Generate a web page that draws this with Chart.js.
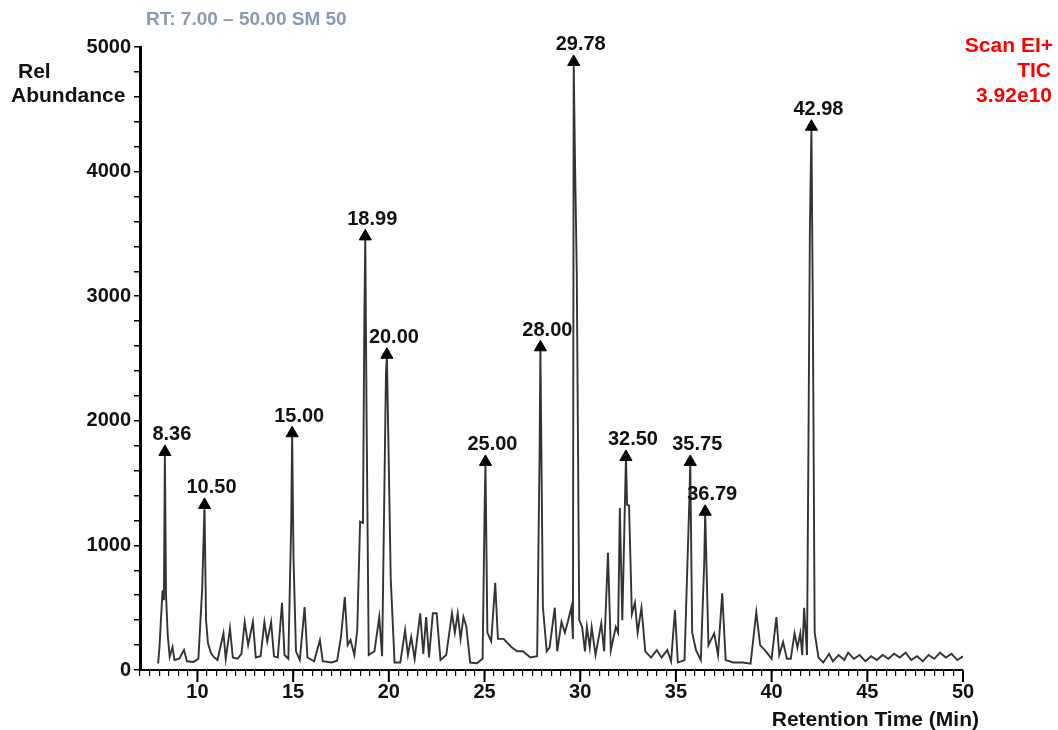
<!DOCTYPE html>
<html>
<head>
<meta charset="utf-8">
<script src="https://cdn.jsdelivr.net/npm/chart.js"></script>
<style>
  body { margin: 0; background: #fff; }
</style>
</head>
<body>
<canvas id="tic" width="1058" height="730"></canvas>
<script>
// retention time (min) and abundance of the TIC trace
const times = [
  7.90, 7.95, 8.02, 8.10, 8.18, 8.25, 8.30, 8.36, 8.45, 8.55, 8.70, 8.80, 9.05, 9.30, 9.45, 9.80,
  10.05, 10.25, 10.37, 10.45, 10.55, 10.70, 10.85, 11.05, 11.36, 11.48, 11.70, 11.85, 12.10, 12.30,
  12.47, 12.65, 12.90, 13.05, 13.30, 13.50, 13.65, 13.85, 14.00, 14.20, 14.42, 14.55, 14.75, 14.90,
  14.95, 15.02, 15.15, 15.35, 15.60, 15.75, 16.10, 16.40, 16.55, 17.00, 17.30, 17.50, 17.70, 17.85,
  18.00, 18.20, 18.35, 18.50, 18.65, 18.72, 18.77, 18.84, 18.95, 19.25, 19.50, 19.65, 19.85, 19.90,
  20.10, 20.30, 20.60, 20.85, 21.00, 21.17, 21.35, 21.64, 21.80, 21.95, 22.10, 22.30, 22.50, 22.70,
  23.00, 23.30, 23.45, 23.60, 23.75, 23.90, 24.05, 24.25, 24.60, 24.90, 25.00, 25.05, 25.15, 25.35,
  25.56, 25.70, 26.00, 26.40, 26.70, 27.00, 27.40, 27.75, 27.88, 27.92, 28.05, 28.25, 28.40, 28.67,
  28.80, 29.02, 29.20, 29.35, 29.54, 29.62, 29.66, 29.72, 29.82, 29.95, 30.10, 30.25, 30.35, 30.50,
  30.60, 30.80, 31.10, 31.25, 31.45, 31.60, 31.86, 31.98, 32.07, 32.20, 32.39, 32.45, 32.55, 32.70,
  32.86, 33.00, 33.20, 33.40, 33.70, 34.00, 34.25, 34.55, 34.75, 34.95, 35.10, 35.45, 35.70, 35.75,
  35.85, 36.05, 36.30, 36.48, 36.53, 36.70, 37.00, 37.20, 37.42, 37.60, 38.00, 38.50, 38.90, 39.20,
  39.40, 39.70, 40.00, 40.25, 40.40, 40.60, 40.80, 41.00, 41.20, 41.35, 41.50, 41.60, 41.70, 41.85,
  42.00, 42.08, 42.15, 42.25, 42.45, 42.70, 43.00, 43.20, 43.50, 43.80, 44.00, 44.30, 44.60, 44.90,
  45.20, 45.50, 45.80, 46.10, 46.40, 46.70, 47.00, 47.30, 47.60, 47.90, 48.20, 48.50, 48.80, 49.10,
  49.40, 49.70, 50.00
];
const abundance = [
  60, 60, 190, 420, 640, 560, 1750, 600, 280, 105, 185, 80, 90, 160, 70, 65,
  90, 655, 1325, 400, 215, 140, 105, 80, 295, 90, 335, 100, 90, 130,
  385, 200, 385, 100, 110, 385, 230, 385, 110, 100, 540, 120, 90, 1180,
  1900, 900, 150, 80, 505, 100, 70, 240, 70, 60, 75, 265, 585, 200,
  240, 120, 320, 1190, 1180, 2770, 3480, 2000, 120, 150, 425, 110, 2370, 2530,
  735, 60, 60, 320, 120, 265, 90, 455, 130, 425, 100, 455, 455, 80,
  120, 455, 300, 455, 250, 425, 350, 60, 55, 90, 1230, 1670, 300, 230,
  700, 250, 250, 185, 150, 150, 100, 110, 1770, 2590, 505, 150, 180, 500,
  150, 385, 300, 385, 505, 250, 4880, 4170, 3190, 400, 345, 150, 345, 180,
  345, 120, 375, 150, 940, 160, 345, 300, 1300, 400, 1710, 1325, 1320, 450,
  540, 300, 500, 150, 100, 160, 100, 160, 70, 480, 60, 80, 1350, 1670,
  300, 160, 80, 860, 1270, 200, 295, 120, 615, 80, 60, 60, 50, 465,
  200, 150, 90, 425, 120, 225, 90, 90, 295, 180, 295, 120, 500, 120,
  3530, 4360, 3000, 300, 100, 60, 130, 70, 120, 80, 140, 90, 120, 70,
  110, 80, 120, 90, 130, 100, 140, 80, 110, 70, 120, 90, 140, 100,
  130, 80, 110
];

// marked peaks: arrow position and printed label
const peakTimes = [8.30, 10.37, 14.95, 18.77, 19.90, 25.05, 27.92, 29.66, 32.39, 35.75, 36.53, 42.08];
const peakHeights = [1750, 1325, 1900, 3480, 2530, 1670, 2590, 4880, 1710, 1670, 1270, 4360];
const peakLabels = ['8.36', '10.50', '15.00', '18.99', '20.00', '25.00', '28.00', '29.78', '32.50', '35.75', '36.79', '42.98'];

const FONT = '"Liberation Sans", Arial, sans-serif';

const textPlugin = {
    id: 'texts',
    afterDraw(chart) {
        const ctx = chart.ctx;
        const xs = chart.scales.x;
        const ys = chart.scales.y;
        ctx.save();

        // longer ticks every 5 min
        ctx.strokeStyle = '#000';
        ctx.lineWidth = 2;
        for (let t = 10; t <= 50; t += 5) {
            const px = xs.getPixelForValue(t);
            ctx.beginPath();
            ctx.moveTo(px, ys.bottom);
            ctx.lineTo(px, ys.bottom + 12);
            ctx.stroke();
        }

        ctx.textBaseline = 'middle';
        ctx.font = 'bold 20px ' + FONT;
        ctx.fillStyle = '#111';
        ctx.textAlign = 'center';
        peakLabels.forEach((t, i) => {
            ctx.fillText(t, xs.getPixelForValue(peakTimes[i]) + 7, ys.getPixelForValue(peakHeights[i]) - 17);
        });

        ctx.font = 'bold 21px ' + FONT;
        ctx.textAlign = 'left';
        ctx.fillText('Rel', 18, 72);
        ctx.fillText('Abundance', 11, 96);

        ctx.font = 'bold 19px ' + FONT;
        ctx.fillStyle = '#8a9ab2';
        ctx.fillText('RT: 7.00 \u2013 50.00 SM 50', 146, 20);

        ctx.font = 'bold 21px ' + FONT;
        ctx.textAlign = 'right';
        ctx.fillStyle = '#ff0000';
        ctx.fillText('Scan EI+', 1053, 46);
        ctx.fillText('TIC', 1051, 71);
        ctx.fillText('3.92e10', 1052, 96);

        ctx.font = 'bold 21px ' + FONT;
        ctx.fillStyle = '#111';
        ctx.fillText('Retention Time (Min)', 979, 720);
        ctx.restore();
    }
};

new Chart(document.getElementById('tic'), {
    type: 'line',
    data: {
        datasets: [
            {
                label: 'peaks',
                data: peakTimes.map((t, i) => ({ x: t, y: peakHeights[i] })),
                showLine: false,
                pointStyle: 'triangle',
                pointRadius: 7,
                backgroundColor: '#000',
                borderColor: '#000',
                borderWidth: 1
            },
            {
                label: 'TIC',
                data: times.map((t, i) => ({ x: t, y: abundance[i] })),
                borderColor: '#333',
                borderWidth: 1.9,
                pointRadius: 0,
                tension: 0,
                fill: false
            }
        ]
    },
    options: {
        responsive: false,
        animation: false,
        layout: { padding: { left: 0, right: 95, top: 47, bottom: 0 } },
        plugins: {
            legend: { display: false },
            tooltip: { enabled: false }
        },
        scales: {
            x: {
                type: 'linear',
                min: 7,
                max: 50,
                afterFit: scale => { scale.height = 60; },
                border: { color: '#000', width: 2 },
                grid: {
                    drawOnChartArea: false,
                    color: '#000',
                    tickLength: 6,
                    lineWidth: 1.2
                },
                ticks: {
                    stepSize: 0.5,
                    autoSkip: false,
                    maxRotation: 0,
                    padding: 4,
                    color: '#111',
                    font: { family: FONT, size: 20, weight: 'bold' },
                    callback: v => (v >= 10 && v % 5 === 0) ? v : ''
                }
            },
            y: {
                min: 0,
                max: 5000,
                afterFit: scale => { scale.width = 140; },
                border: { color: '#000', width: 3 },
                grid: {
                    drawOnChartArea: false,
                    color: '#000',
                    tickLength: 6,
                    lineWidth: 1.5
                },
                ticks: {
                    stepSize: 200,
                    autoSkip: false,
                    padding: 3,
                    color: '#111',
                    font: { family: FONT, size: 20, weight: 'bold' },
                    callback: v => v % 1000 === 0 ? v : ''
                }
            }
        }
    },
    plugins: [textPlugin]
});
</script>
</body>
</html>
